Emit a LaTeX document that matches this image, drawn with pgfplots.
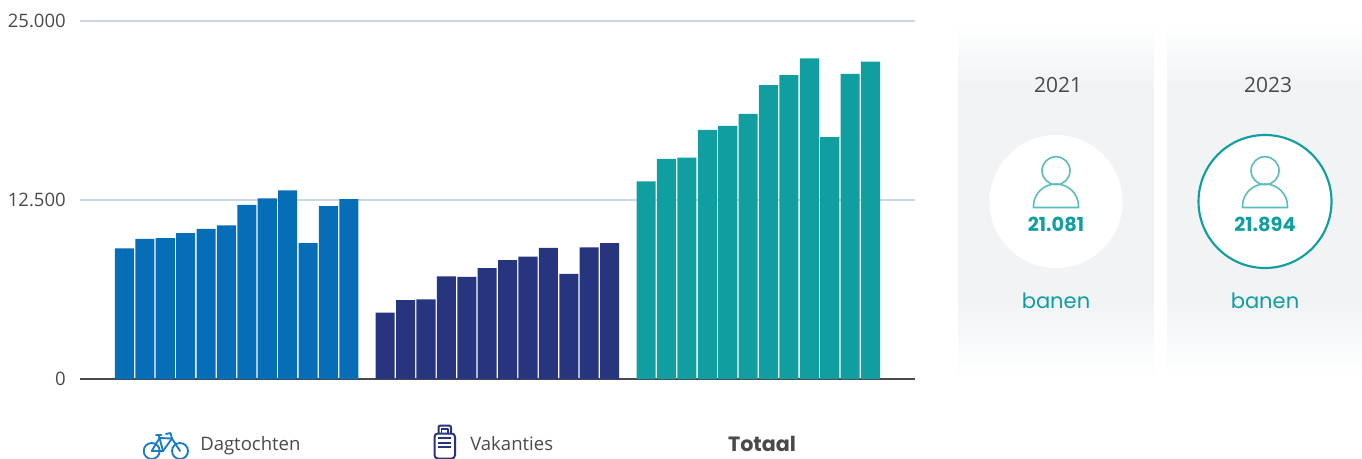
\documentclass[border=0pt]{standalone}
\usepackage{fontspec}
\setmainfont{Open Sans}
\newfontfamily\kpi{Poppins}
\usepackage{pgfplots}
\usepackage{pgfplotstable}
\pgfplotsset{compat=1.18}

\definecolor{dagblue}{HTML}{066DB7}
\definecolor{vaknavy}{HTML}{27357E}
\definecolor{totteal}{HTML}{119EA0}
\definecolor{iconteal}{HTML}{5CBCBC}
\definecolor{bikeblue}{HTML}{1A7CC4}
\definecolor{gridc}{HTML}{CBD6E2}
\definecolor{axisc}{HTML}{4A4A4A}
\definecolor{textc}{HTML}{4A4A4A}
\definecolor{panelc}{HTML}{F1F3F5}

% x is the bar index, each group starts 12.78 bars after the last
\pgfplotstableread{
x y
0 9114
1 9786
2 9835
3 10185
4 10486
5 10724
6 12166
7 12614
8 13174
9 9485
10 12075
11 12565
}\dagtochten
\pgfplotstableread{
x y
12.78 4634
13.78 5516
14.78 5565
15.78 7175
16.78 7126
17.78 7735
18.78 8295
19.78 8554
20.78 9156
21.78 7336
22.78 9184
23.78 9485
}\vakanties
\pgfplotstableread{
x y
25.57 13804
26.57 15365
27.57 15456
28.57 17395
29.57 17675
30.57 18515
31.57 20524
32.57 21224
33.57 22386
34.57 16884
35.57 21315
36.57 22155
}\totaal

\pgfdeclareverticalshading{panel}{100bp}{
  color(0bp)=(white); color(25bp)=(white); color(36bp)=(panelc);
  color(66bp)=(panelc); color(75bp)=(white); color(100bp)=(white)}

\newcommand{\fs}[1]{\fontsize{#1}{#1}\selectfont}

\begin{document}
\begin{tikzpicture}[x=0.75pt,y=-0.75pt]
\path[use as bounding box] (0,0) rectangle (1362,459);

% side panels
\shade[shading=panel] (958,22) rectangle (1154,380);
\shade[shading=panel] (1167,22) rectangle (1362,380);

\begin{axis}[
  at={(60pt,-284.25pt)}, anchor=south west,
  scale only axis, width=626.25pt, height=268.5pt,
  xmin=-2.18, xmax=38.75, ymin=0, ymax=25000,
  axis lines*=left,
  y axis line style={draw=none},
  x axis line style={draw=axisc, line width=1.1pt, -},
  xtick=\empty,
  ytick={0,12500,25000},
  scaled y ticks=false,
  major tick length=0pt,
  ymajorgrids,
  grid style={gridc, line width=1.3pt},
  yticklabel style={font=\fs{13.9}, text=textc, inner sep=0pt, xshift=-10.5pt,
    /pgf/number format/.cd, fixed, assume math mode=true, 1000 sep={.}},
  ybar, bar width=0.935, bar shift=0pt,
  clip=false,
]
\addplot[fill=dagblue, draw=none] table {\dagtochten};
\addplot[fill=vaknavy, draw=none] table {\vakanties};
\addplot[fill=totteal, draw=none] table {\totaal};
\end{axis}

% legend
\node[anchor=base west, inner sep=0pt, text=textc, font=\fs{13.9}] at (200,450.5) {Dagtochten};
\node[anchor=base west, inner sep=0pt, text=textc, font=\fs{13.9}] at (470,450.5) {Vakanties};
\node[anchor=base, inner sep=0pt, text=textc, font=\kpi\bfseries\fs{15.5}] at (762,451) {Totaal};

% bike icon
\begin{scope}[draw=bikeblue, line width=1.4pt, line join=round, line cap=round]
  \draw (151.7,451) circle (8);
  \draw (180,451) circle (8);
  \draw (151.7,451) -- (159.5,438) -- (172,438.5) -- (180,451);
  \draw (151.7,451) -- (163,451) -- (159.5,438);
  \draw (163,451) -- (172,438.5);
  \draw (156,435) -- (161.5,435) (159.5,438) -- (158.5,435);
  \draw (172,438.5) -- (170.5,433) -- (166,434);
\end{scope}

% suitcase icon
\begin{scope}[draw=vaknavy, line width=1.5pt, line join=round]
  \draw[rounded corners=2.5pt] (434.5,458.5) rectangle (455,433.5);
  \draw[rounded corners=1.5pt] (438.5,433.5) -- (438.5,425.5) -- (451,425.5) -- (451,433.5);
  \draw[line width=1.1pt] (441.5,433) -- (441.5,429) -- (448,429) -- (448,433);
  \draw[line width=1.3pt] (438,438.3) -- (451,438.3) (438,442.7) -- (451,442.7) (438,447.3) -- (451,447.3);
\end{scope}

% figures for the two years
\foreach \cx/\tx/\yr/\val/\ring in {1056/1058/2021/21.081/none,1265/1268/2023/21.894/totteal}{
  \node[text=textc, font=\fs{15.7}] at (\tx,85) {\yr};
  \fill[white] (\cx,201.5) circle (66.5);
  \draw[draw=\ring, line width=1.6pt] (\cx,201.5) circle (66.5);
  \draw[iconteal, line width=1.2pt] (\cx,170.7) circle (14);
  \draw[iconteal, line width=1.2pt, line join=round]
    (\cx-22.5,207.5) -- (\cx+22.5,207.5) -- (\cx+22.5,206)
    arc[start angle=0, end angle=-180, x radius=22.5, y radius=22] -- cycle;
  \node[text=totteal, font=\kpi\bfseries\fs{14.5}] at (\cx,224) {\val};
  \node[text=totteal, font=\kpi\fs{15.8}] at (\cx,301) {banen};
}
\end{tikzpicture}
\end{document}
